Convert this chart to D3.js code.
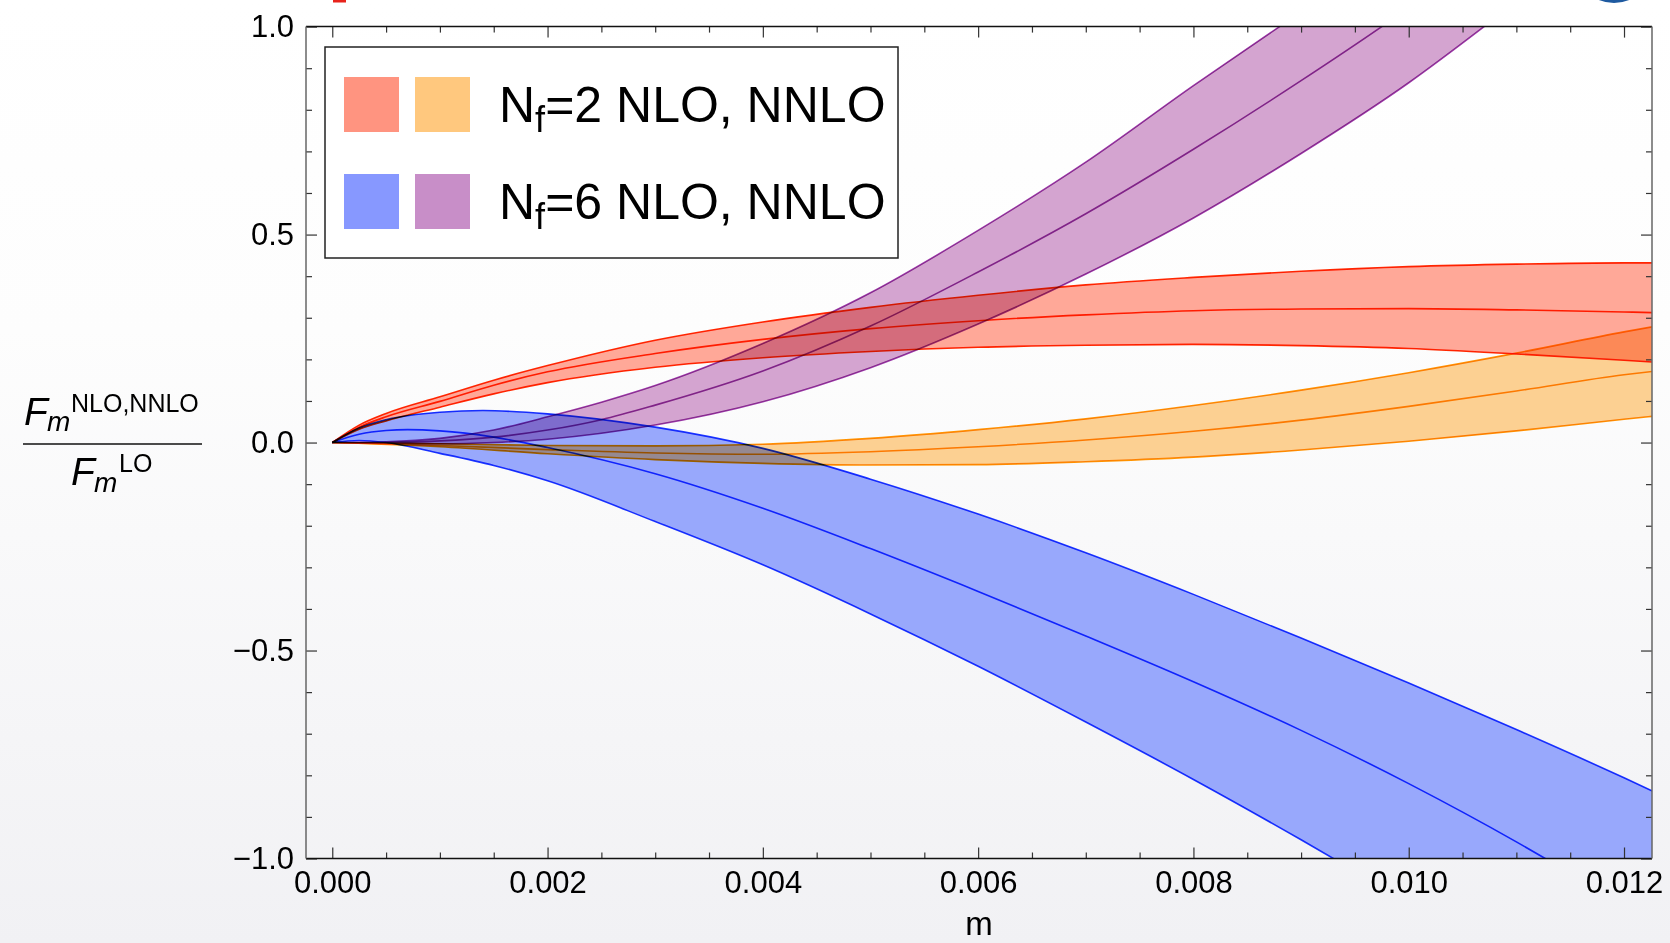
<!DOCTYPE html>
<html>
<head>
<meta charset="utf-8">
<script src="https://cdnjs.cloudflare.com/ajax/libs/d3/7.8.5/d3.min.js"></script>
<style>
  html, body { margin: 0; padding: 0; background: #fff; }
  svg { display: block; font-family: "Liberation Sans", Arial, Helvetica, sans-serif; }
  .band { mix-blend-mode: multiply; }
</style>
</head>
<body>
<div id="chart"></div>
<script>
// ---- data (m, ratio) ----
var nf2NloM   = [0, 0.00025, 0.0005, 0.001, 0.0015, 0.002, 0.003, 0.004, 0.005, 0.006, 0.007, 0.008, 0.009, 0.010, 0.011, 0.012, 0.0123];
var nf2NloHi  = [0, 0.042, 0.070, 0.110, 0.150, 0.185, 0.246, 0.290, 0.325, 0.354, 0.379, 0.397, 0.412, 0.423, 0.429, 0.432, 0.432];
var nf2NloMid = [0, 0.037, 0.062, 0.099, 0.138, 0.170, 0.214, 0.248, 0.274, 0.293, 0.307, 0.317, 0.321, 0.322, 0.319, 0.314, 0.312];
var nf2NloLo  = [0, 0.032, 0.052, 0.085, 0.117, 0.144, 0.181, 0.204, 0.219, 0.229, 0.234, 0.236, 0.233, 0.226, 0.213, 0.198, 0.193];

var nf2NnloM   = [0, 0.001, 0.002, 0.003, 0.004, 0.005, 0.006, 0.007, 0.008, 0.009, 0.010, 0.011, 0.012, 0.0123];
var nf2NnloHi  = [0, -0.003, -0.007, -0.008, -0.004, 0.010, 0.031, 0.057, 0.089, 0.126, 0.168, 0.215, 0.266, 0.280];
var nf2NnloMid = [0, -0.007, -0.017, -0.025, -0.028, -0.022, -0.010, 0.006, 0.027, 0.054, 0.087, 0.124, 0.163, 0.172];
var nf2NnloLo  = [0, -0.010, -0.027, -0.041, -0.050, -0.054, -0.053, -0.046, -0.035, -0.018, 0.003, 0.028, 0.056, 0.064];

var nf6NloHiM  = [0, 0.00025, 0.0005, 0.001, 0.0014, 0.002, 0.003, 0.004, 0.005, 0.006, 0.007, 0.008, 0.009, 0.010, 0.011, 0.012, 0.0123];
var nf6NloHi   = [0, 0.035, 0.055, 0.073, 0.077, 0.069, 0.037, -0.014, -0.088, -0.172, -0.265, -0.365, -0.470, -0.578, -0.690, -0.806, -0.842];
var nf6NloMidM = [0, 0.00025, 0.0005, 0.0007, 0.001, 0.0015, 0.002, 0.003, 0.004, 0.005, 0.006, 0.007, 0.008, 0.009, 0.010, 0.011, 0.0115];
var nf6NloMid  = [0, 0.020, 0.029, 0.031, 0.028, 0.013, -0.012, -0.075, -0.158, -0.255, -0.358, -0.465, -0.575, -0.692, -0.820, -0.960, -1.035];
var nf6NloLoM  = [0, 0.00025, 0.0005, 0.001, 0.0015, 0.002, 0.003, 0.004, 0.005, 0.006, 0.007, 0.008, 0.009, 0.0097];
var nf6NloLo   = [0, 0.005, 0.000, -0.026, -0.055, -0.092, -0.190, -0.294, -0.412, -0.538, -0.672, -0.810, -0.955, -1.060];

var nf6NnloHiM  = [0, 0.0005, 0.001, 0.0015, 0.002, 0.0025, 0.003, 0.004, 0.005, 0.006, 0.007, 0.008, 0.0088, 0.0092];
var nf6NnloHi   = [0, 0.002, 0.010, 0.030, 0.062, 0.097, 0.137, 0.238, 0.360, 0.510, 0.674, 0.858, 1.000, 1.070];
var nf6NnloMidM = [0, 0.0005, 0.001, 0.0015, 0.002, 0.0025, 0.003, 0.004, 0.005, 0.006, 0.007, 0.008, 0.009, 0.00975, 0.010];
var nf6NnloMid  = [0, 0.000, 0.004, 0.013, 0.030, 0.055, 0.090, 0.172, 0.280, 0.410, 0.550, 0.705, 0.870, 1.000, 1.045];
var nf6NnloLoM  = [0, 0.0005, 0.001, 0.0015, 0.002, 0.003, 0.004, 0.005, 0.006, 0.007, 0.008, 0.009, 0.010, 0.0107, 0.011];
var nf6NnloLo   = [0, -0.001, -0.003, 0.000, 0.008, 0.042, 0.098, 0.180, 0.285, 0.405, 0.540, 0.695, 0.865, 1.000, 1.060];

var xTickValues = [0, 0.002, 0.004, 0.006, 0.008, 0.010, 0.012];
var yTickValues = [-1, -0.5, 0, 0.5, 1];
var legendLabels = ["=2 NLO, NNLO", "=6 NLO, NNLO"];
var legendColors = [["#ff9480", "#ffc87e"], ["#8798ff", "#c88ec8"]];

// draw order: fill colour (multiplied) and edge colour of each band
var bands = [
  { hi: [nf2NloM, nf2NloHi], mid: [nf2NloM, nf2NloMid], lo: [nf2NloM, nf2NloLo], fill: "#ffa898", line: "#ff2a00" },
  { hi: [nf2NnloM, nf2NnloHi], mid: [nf2NnloM, nf2NnloMid], lo: [nf2NnloM, nf2NnloLo], fill: "#fcd092", line: "#ff9400" },
  { hi: [nf6NloHiM, nf6NloHi], mid: [nf6NloMidM, nf6NloMid], lo: [nf6NloLoM, nf6NloLo], fill: "#98a8fc", line: "#1a35ff" },
  { hi: [nf6NnloHiM, nf6NnloHi], mid: [nf6NnloMidM, nf6NnloMid], lo: [nf6NnloLoM, nf6NnloLo], fill: "#d4a4d0", line: "#9a36a6" }
];

var width = 1670, height = 943;
var frame = { left: 306, right: 1652, top: 26.6, bottom: 858.5 };

var x = d3.scaleLinear().domain([-0.000244, 0.01226]).range([frame.left, frame.right]);
var y = d3.scaleLinear().domain([-1, 1]).range([frame.bottom, frame.top]);

var svg = d3.select("#chart").append("svg")
  .attr("width", width)
  .attr("height", height);

var defs = svg.append("defs");
var grad = defs.append("linearGradient").attr("id", "bg")
  .attr("x1", 0).attr("y1", 0).attr("x2", 0).attr("y2", 1);
grad.append("stop").attr("offset", "0%").attr("stop-color", "#ffffff");
grad.append("stop").attr("offset", "35%").attr("stop-color", "#fdfdfd");
grad.append("stop").attr("offset", "100%").attr("stop-color", "#f1f1f4");

defs.append("clipPath").attr("id", "clip")
  .append("rect")
  .attr("x", frame.left).attr("y", frame.top)
  .attr("width", frame.right - frame.left)
  .attr("height", frame.bottom - frame.top);

svg.append("rect").attr("width", width).attr("height", height).attr("fill", "url(#bg)");

// bits of the slide peeking in at the top
svg.append("rect").attr("x", 333).attr("y", 0).attr("width", 13).attr("height", 2.5).attr("fill", "#e8231b");
svg.append("circle").attr("cx", 1614).attr("cy", -37).attr("r", 40).attr("fill", "#1e5aa0");

var line = d3.line()
  .x(function (d) { return x(d[0]); })
  .y(function (d) { return y(d[1]); })
  .curve(d3.curveMonotoneX);

function pts(pair) {
  return pair[0].map(function (m, i) { return [m, pair[1][i]]; });
}

// band outline: upper curve forward, lower curve back, closed outside the frame if needed
function bandPath(b) {
  var hiPts = pts(b.hi), loPts = pts(b.lo).reverse();
  var e1 = hiPts[hiPts.length - 1], e2 = loPts[0];
  var p = line(hiPts);
  var edge = null;
  if (e1[1] > 1 || e2[1] > 1) edge = 1.6;
  if (e1[1] < -1 || e2[1] < -1) edge = -1.6;
  if (edge !== null) {
    p += "L" + x(e1[0]) + "," + y(edge) + "L" + x(e2[0]) + "," + y(edge);
  }
  p += "L" + line(loPts).slice(1) + "Z";
  return p;
}

var plot = svg.append("g").attr("clip-path", "url(#clip)");

bands.forEach(function (b) {
  var g = plot.append("g");
  g.append("path")
    .attr("class", "band")
    .attr("d", bandPath(b))
    .attr("fill", b.fill);
  [b.lo, b.mid, b.hi].forEach(function (c) {
    g.append("path")
      .attr("class", "band")
      .attr("d", line(pts(c)))
      .attr("fill", "none")
      .attr("stroke", b.line)
      .attr("stroke-width", 1.6);
  });
});

// ---- axes (Mathematica-style frame, ticks inside) ----
var xMinor = d3.range(0, 25).filter(function (i) { return i % 4 !== 0; }).map(function (i) { return i * 0.0005; });
var yMinor = d3.range(-10, 11).filter(function (i) { return i % 5 !== 0; }).map(function (i) { return i / 10; });

function yFmt(d) {
  var s = Math.abs(d).toFixed(1);
  return d < 0 ? "\u2212" + s : s;
}

function styleAxis(g) {
  g.select(".domain").remove();
  g.selectAll(".tick line").attr("stroke", "#333").attr("stroke-width", 1.2);
  g.selectAll("text").attr("fill", "#000").style("font-size", "31px")
    .style("font-family", "'Liberation Sans', Arial, Helvetica, sans-serif");
}

svg.append("g").attr("transform", "translate(0," + frame.bottom + ")")
  .call(d3.axisBottom(x).tickValues(xTickValues).tickSize(-11).tickPadding(12).tickFormat(d3.format(".3f")))
  .call(styleAxis);
svg.append("g").attr("transform", "translate(0," + frame.bottom + ")")
  .call(d3.axisBottom(x).tickValues(xMinor).tickSize(-6).tickFormat(""))
  .call(styleAxis);
svg.append("g").attr("transform", "translate(0," + frame.top + ")")
  .call(d3.axisTop(x).tickValues(xTickValues).tickSize(-11).tickFormat(""))
  .call(styleAxis);
svg.append("g").attr("transform", "translate(0," + frame.top + ")")
  .call(d3.axisTop(x).tickValues(xMinor).tickSize(-6).tickFormat(""))
  .call(styleAxis);

svg.append("g").attr("transform", "translate(" + frame.left + ",0)")
  .call(d3.axisLeft(y).tickValues(yTickValues).tickSize(-11).tickPadding(12).tickFormat(yFmt))
  .call(styleAxis);
svg.append("g").attr("transform", "translate(" + frame.left + ",0)")
  .call(d3.axisLeft(y).tickValues(yMinor).tickSize(-6).tickFormat(""))
  .call(styleAxis);
svg.append("g").attr("transform", "translate(" + frame.right + ",0)")
  .call(d3.axisRight(y).tickValues(yTickValues).tickSize(-11).tickFormat(""))
  .call(styleAxis);
svg.append("g").attr("transform", "translate(" + frame.right + ",0)")
  .call(d3.axisRight(y).tickValues(yMinor).tickSize(-6).tickFormat(""))
  .call(styleAxis);

// frame
svg.append("line").attr("x1", frame.left).attr("x2", frame.right).attr("y1", frame.top).attr("y2", frame.top)
  .attr("stroke", "#111").attr("stroke-width", 1.5);
svg.append("line").attr("x1", frame.left).attr("x2", frame.right).attr("y1", frame.bottom).attr("y2", frame.bottom)
  .attr("stroke", "#111").attr("stroke-width", 1.5);
svg.append("line").attr("x1", frame.left).attr("x2", frame.left).attr("y1", frame.top).attr("y2", frame.bottom)
  .attr("stroke", "#666").attr("stroke-width", 1.5);
svg.append("line").attr("x1", frame.right).attr("x2", frame.right).attr("y1", frame.top).attr("y2", frame.bottom)
  .attr("stroke", "#666").attr("stroke-width", 1.5);

// x label
svg.append("text").attr("x", (frame.left + frame.right) / 2).attr("y", 935)
  .attr("text-anchor", "middle").style("font-size", "33px").text("m");

// y label as a fraction
var yl = svg.append("g").attr("fill", "#000");
yl.append("text").attr("x", 24).attr("y", 425).style("font-size", "39px").style("font-style", "italic").text("F");
yl.append("text").attr("x", 47).attr("y", 431).style("font-size", "28px").style("font-style", "italic").text("m");
yl.append("text").attr("x", 71).attr("y", 412).style("font-size", "25px").text("NLO,NNLO");
yl.append("line").attr("x1", 23).attr("x2", 202).attr("y1", 444).attr("y2", 444)
  .attr("stroke", "#111").attr("stroke-width", 1.6);
yl.append("text").attr("x", 71).attr("y", 485).style("font-size", "39px").style("font-style", "italic").text("F");
yl.append("text").attr("x", 94).attr("y", 492).style("font-size", "28px").style("font-style", "italic").text("m");
yl.append("text").attr("x", 119).attr("y", 472).style("font-size", "25px").text("LO");

// legend
var legend = svg.append("g");
legend.append("rect")
  .attr("x", 325).attr("y", 47).attr("width", 573).attr("height", 211)
  .attr("fill", "#fff").attr("stroke", "#222").attr("stroke-width", 1.5);

var rows = legend.selectAll(".row")
  .data(legendLabels)
  .enter().append("g")
  .attr("class", "row")
  .attr("transform", function (d, i) { return "translate(0," + i * 97 + ")"; });

rows.each(function (d, i) {
  var r = d3.select(this);
  legendColors[i].forEach(function (c, j) {
    r.append("rect")
      .attr("x", 344 + j * 71).attr("y", 77)
      .attr("width", 55).attr("height", 55)
      .attr("fill", c);
  });
  var t = r.append("text").attr("x", 499).attr("y", 121.5).style("font-size", "50px");
  t.append("tspan").text("N");
  t.append("tspan").attr("dy", 10).style("font-size", "36px").text("f");
  t.append("tspan").attr("dy", -10).text(d);
});
</script>
</body>
</html>
